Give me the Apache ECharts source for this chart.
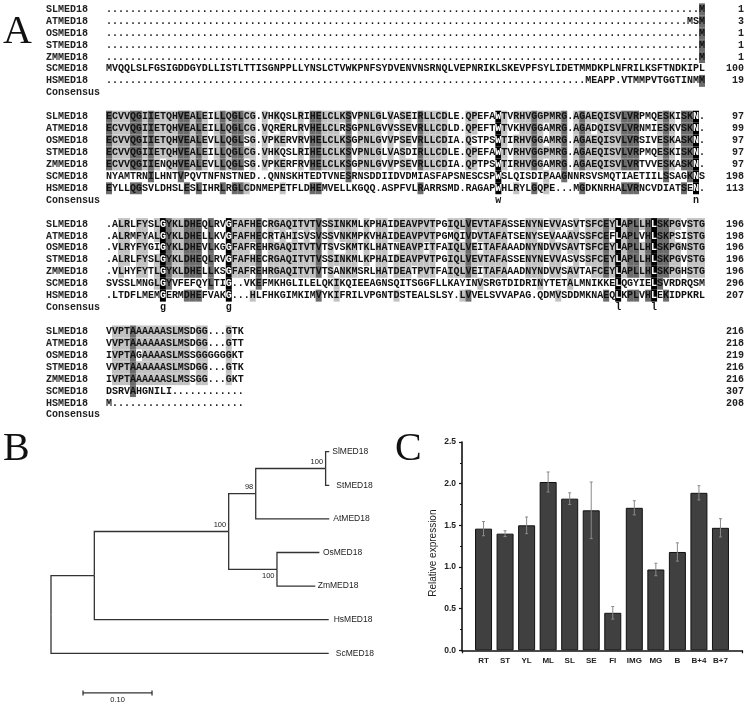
<!DOCTYPE html>
<html><head><meta charset="utf-8">
<style>html,body{margin:0;padding:0;background:#fff}#c{width:750px;height:705px;filter:blur(0.4px)}</style>
<script src="https://cdn.jsdelivr.net/npm/echarts@6/dist/echarts.min.js"></script>
</head><body><div id="c"></div>
<script>
// ---------- Panel A data ----------
const seqNames = ['SLMED18','ATMED18','OSMED18','STMED18','ZMMED18','SCMED18','HSMED18'];
const consensusName = 'Consensus';
const block1 = [
 '.'.repeat(99)+'M',
 '.'.repeat(97)+'MSM',
 '.'.repeat(99)+'M',
 '.'.repeat(99)+'M',
 '.'.repeat(99)+'M',
 'MVQQLSLFGSIGDDGYDLLISTLTTISGNPPLLYNSLCTVWKPNFSYDVENVNSRNQLVEPNRIKLSKEVPFSYLIDETMMDKPLNFRILKSFTNDKIPL',
 '.'.repeat(80)+'MEAPP.VTMMPVTGGTINMM'
];
const block2 = [
 'ECVVQGIIETQHVEALEILLQGLCG.VHKQSLRIHELCLKSVPNLGLVASEIRLLCDLE.QPEFAWTVRHVGGPMRG.AGAEQISVLVRPMQESKISKN.',
 'ECVVQGIIETQHVEALEILLQGLCG.VQRERLRVHELCLRSGPNLGVVSSEVRLLCDLD.QPEFTWTVKHVGGAMRG.AGADQISVLVRNMIESKVSKN.',
 'ECVVQGIIETQHVEALEVLLQGLSG.VPKERVRVHELCLKSGPNLGVVPSEVRLLCDIA.QSTPSWTIRHVGGAMRG.AGAEQISVLVRSIVESKASKN.',
 'ECVVQGIIETQHVEALEILLQGLCG.VHKQSLRIHELCLKSVPNLGLVASDIRLLCDLE.QPEFAWTVRHVGGPMRG.AGAEQISVLVRPMQESKISKN.',
 'ECVVQGIIENQHVEALEVLLQGLSG.VPKERFRVHELCLKSGPNLGVVPSEVRLLCDIA.QPTPSWTIRHVGGAMRG.AGAEQISVLVRTVVESKASKN.',
 'NYAMTRNILHNTVPQVTNFNSTNED..QNNSKHTEDTVNESRNSDDIIDVDMIASFAPSNESCSPWSLQISDIPAAGNNRSVSMQTIAETIILSSAGKNS',
 'EYLLQGSVLDHSLESLIHRLRGLCDNMEPETFLDHEMVELLKGQQ.ASPFVLRARRSMD.RAGAPWHLRYLGQPE...MGDKNRHALVRNCVDIATSEN.'
];
const block3 = [
 '.ALRLFYSLGYKLDHEQLRVGFAFHECRGAQITVTVSSINKMLKPHAIDEAVPVTPGIQLVEVTAFASSENYNEVVASVTSFCEYLAPLLHLSKPGVSTG',
 '.ALRMFYALGYKLDHELLKVGFAFHECRTAHISVSVSSVNKMPKVHAIDEAVPVTPGMQIVDVTAFATSENYSEVAAAVSSFCEFLAPLVHLSKPSISTG',
 '.VLRYFYGIGYKLDHEVLKGGFAFREHRGAQITVTVTSVSKMTKLHATNEAVPITFAIQLVEITAFAAADNYNDVVSAVTSFCEYLAPLLHLSKPGNSTG',
 '.ALRLFYSLGYKLDHEQLRVGFAFHECRGAQITVTVSSINKMLKPHAIDEAVPVTPGIQLVEVTAFASSENYNEVVASVSSFCEYLAPLLHLSKPGVSTG',
 '.VLHYFYTLGYKLDHELLKSGFAFREHRGAQITVTVTSANKMSRLHATDEATPVTFAIQLVEITAFAAADNYNDVVSAVTAFCEYLAPLLHLSKPGHSTG',
 'SVSSLMNGLGYVFEFQYLTIG..VKEFMKHGLILELQKIKQIEEAGNSQITSGGFLLKAYINVSRGTDIDRINYTETALMNIKKELQGYIELSVRDRQSM',
 '.LTDFLMEMGERMDHEFVAKG...HLFHKGIMKIMVYKIFRILVPGNTDSTEALSLSY.LVVELSVVAPAG.QDMVSDDMKNAEQLKPLVHLEKIDPKRL'
];
const block4 = [
 'VVPTAAAAAASLMSDGG...GTK',
 'VVPTAAAAAASLMSDGG...GTT',
 'IVPTAGAAAASLMSSGGGGGGKT',
 'VVPTAAAAAASLMSDGG...GTK',
 'IVPTAAAAAASLMSSGG...GKT',
 'DSRVAHGNILI............',
 'M......................'
];
const blockCounts = [
 [1,3,1,1,1,100,19],
 [97,99,97,97,97,198,113],
 [196,198,196,196,196,296,207],
 [216,218,219,216,216,307,208]
];
// ---------- Panel B data ----------
const treeNodeNames = ['root','a','b','c','d','e'];
const treeNodeDepth = [0, 0.0628, 0.2575, 0.2967, 0.398, 0.3275];
const treeNodeRank  = [3.69, 3.69, 2.375, 1.25, 0.5, 3.5];
const leafNames = ['SlMED18','StMED18','AtMED18','OsMED18','ZmMED18','HsMED18','ScMED18'];
const leafDepth = [0.4033,0.4033,0.4033,0.389,0.383,0.4025,0.4025];
const leafParent = ['d','d','c','e','e','a','root'];
const nodeParent = {a:'root',b:'a',c:'b',d:'c',e:'b'};
const bootstrapNodes = ['d','c','b','e'];
const bootstrapValues = [100,98,100,100];
const scaleLength = 0.10;
const scaleLabel = '0.10';
// ---------- Panel C data ----------
const tissues = ['RT','ST','YL','ML','SL','SE','FI','IMG','MG','B','B+4','B+7'];
const expression = [1.46,1.40,1.50,2.02,1.82,1.68,0.45,1.71,0.97,1.18,1.89,1.47];
const expressionErr = [0.085,0.035,0.10,0.12,0.07,0.34,0.075,0.085,0.075,0.11,0.085,0.11];
const panelLetters = ['A','B','C'];

// ---------- Build alignment cells ----------
const blocks = [block1,block2,block3,block4];
const rowStep = 9, cells = [], rowTexts = [];
blocks.forEach((rows,bi)=>{
  const base = bi*rowStep, len = rows[0].length;
  for(let c=0;c<len;c++){
    const tally = {};
    rows.forEach(r=>{const ch=r[c]; if(ch!=='.') tally[ch]=(tally[ch]||0)+1;});
    rows.forEach((r,ri)=>{
      const ch=r[c], n = ch==='.'?0:tally[ch];
      cells.push({c, r:base+ri, ch, lvl:n===7?3:n===6?2:n>=4?1:0});
    });
    const full = Object.keys(tally).find(k=>tally[k]===7);
    if(full) cells.push({c, r:base+7, ch:full.toLowerCase(), lvl:0});
  }
  rows.forEach((r,ri)=>{rowTexts.push({c:-10.5,r:base+ri,t:seqNames[ri],a:'left'});
                        rowTexts.push({c:106,r:base+ri,t:String(blockCounts[bi][ri]),a:'right'});});
  rowTexts.push({c:-10.5,r:base+7,t:consensusName,a:'left'});
});
const shade = ['#ffffff','#c2c2c2','#6c6c6c','#000000'];
const monoFont = 'bold 10px "Liberation Mono", monospace';

// ---------- Build tree ----------
const nd = {}; treeNodeNames.forEach((n,i)=>nd[n]={d:treeNodeDepth[i],r:treeNodeRank[i]});
nd.a.r = 2.375/2+5/2;
nd.root.r = (nd.a.r+6)/2;
const edges = [];
Object.keys(nodeParent).forEach(n=>edges.push([nd[nodeParent[n]].d,nd[nodeParent[n]].r,nd[n].d,nd[n].r]));
leafNames.forEach((n,i)=>edges.push([nd[leafParent[i]].d,nd[leafParent[i]].r,leafDepth[i],i]));
const labelGap = [3,7,4,3.5,2.5,5,7];
const treeColor = '#333';

const chart = echarts.init(document.getElementById('c'),null,{renderer:'canvas'});
chart.setOption({
  animation:false, backgroundColor:'#fff',
  textStyle:{fontFamily:'"Liberation Sans", Arial, sans-serif'},
  grid:[
    {left:106,top:3.33,width:599,height:417.6},
    {left:51,top:451.7,width:310.5,height:252},
    {left:462,top:442,width:280,height:208.3}
  ],
  xAxis:[
    {gridIndex:0,type:'value',min:-0.5,max:99.5,show:false},
    {gridIndex:1,type:'value',min:0,max:0.45,show:false},
    {gridIndex:2,type:'category',boundaryGap:false,data:['',...tissues,''],
     axisLine:{lineStyle:{color:'#111',width:1.6}},
     axisTick:{length:3,interval:i=>i===0||i===tissues.length+1,lineStyle:{color:'#111',width:1.2}},
     axisLabel:{interval:0,margin:6,fontSize:8,fontWeight:'bold',color:'#222'}}
  ],
  yAxis:[
    {gridIndex:0,type:'value',min:-0.5,max:34.5,inverse:true,show:false},
    {gridIndex:1,type:'value',min:0,max:7.5,inverse:true,show:false},
    {gridIndex:2,type:'value',min:0,max:2.5,interval:0.5,
     name:'Relative expression',nameLocation:'middle',nameGap:24,nameRotate:90,
     nameTextStyle:{fontSize:10,color:'#222',padding:[0,14,0,0]},
     axisLine:{show:true,lineStyle:{color:'#111',width:1.6}},
     axisTick:{show:true,length:3,lineStyle:{color:'#111',width:1.2}},
     minorTick:{show:true,splitNumber:2,length:2,lineStyle:{color:'#111'}},
     splitLine:{show:false},
     axisLabel:{margin:6,fontSize:8.5,fontWeight:'bold',color:'#222',formatter:v=>v.toFixed(1)}}
  ],
  series:[
    // alignment shading + letters
    {type:'custom',xAxisIndex:0,yAxisIndex:0,silent:true,progressive:0,
     data:cells.map(o=>[o.c,o.r]),
     renderItem(p,api){
       const o=cells[p.dataIndex],pt=api.coord([o.c,o.r]),sz=api.size([1,1]),ch=[];
       if(o.lvl>0)ch.push({type:'rect',shape:{x:pt[0]-sz[0]/2,y:pt[1]-sz[1]/2,width:sz[0],height:sz[1]},style:{fill:shade[o.lvl]}});
       ch.push({type:'text',z2:5,style:{text:o.ch,x:pt[0],y:pt[1],align:'center',verticalAlign:'middle',font:monoFont,fill:o.lvl===3?'#fff':'#111'}});
       return {type:'group',children:ch};
     }},
    // row names and residue counts
    {type:'custom',xAxisIndex:0,yAxisIndex:0,silent:true,progressive:0,
     data:rowTexts.map(o=>[o.c,o.r]),
     renderItem(p,api){
       const o=rowTexts[p.dataIndex],pt=api.coord([o.c,o.r]);
       return {type:'text',style:{text:o.t,x:pt[0],y:pt[1],align:o.a,verticalAlign:'middle',font:monoFont,fill:'#222'}};
     }},
    // tree branches
    {type:'custom',xAxisIndex:1,yAxisIndex:1,silent:true,data:edges,
     encode:{x:[0,2],y:[1,3]},
     renderItem(p,api){
       const a=api.coord([api.value(0),api.value(1)]),b=api.coord([api.value(2),api.value(3)]);
       return {type:'polyline',shape:{points:[a,[a[0],b[1]],b]},style:{stroke:treeColor,lineWidth:1.3,fill:'none'}};
     }},
    // leaf labels
    {type:'custom',xAxisIndex:1,yAxisIndex:1,silent:true,
     data:leafNames.map((n,i)=>[leafDepth[i],i]),
     renderItem(p,api){
       const pt=api.coord([api.value(0),api.value(1)]);
       return {type:'text',style:{text:leafNames[p.dataIndex],x:pt[0]+labelGap[p.dataIndex],y:pt[1],align:'left',verticalAlign:'middle',font:'8.5px "Liberation Sans", Arial, sans-serif',fill:'#222'}};
     }},
    // bootstrap labels
    {type:'custom',xAxisIndex:1,yAxisIndex:1,silent:true,
     data:bootstrapNodes.map(n=>[nd[n].d,nd[n].r]),
     renderItem(p,api){
       const pt=api.coord([api.value(0),api.value(1)]);
       const below=bootstrapNodes[p.dataIndex]==='e';
       return {type:'text',style:{text:String(bootstrapValues[p.dataIndex]),x:pt[0]-2.5,y:pt[1]+(below?6.4:-6.5),align:'right',verticalAlign:'middle',font:'7.5px "Liberation Sans", Arial, sans-serif',fill:'#222'}};
     }},
    // scale bar
    {type:'custom',xAxisIndex:1,yAxisIndex:1,silent:true,
     data:[[0.0464,7.18,0.0464+scaleLength,7.18]],
     encode:{x:[0,2],y:[1,3]},
     renderItem(p,api){
       const a=api.coord([api.value(0),api.value(1)]),b=api.coord([api.value(2),api.value(3)]);
       return {type:'group',children:[
         {type:'line',shape:{x1:a[0],y1:a[1],x2:b[0],y2:b[1]},style:{stroke:treeColor,lineWidth:1.3}},
         {type:'line',shape:{x1:a[0],y1:a[1]-2.5,x2:a[0],y2:a[1]+2.5},style:{stroke:treeColor,lineWidth:1.3}},
         {type:'line',shape:{x1:b[0],y1:b[1]-2.5,x2:b[0],y2:b[1]+2.5},style:{stroke:treeColor,lineWidth:1.3}},
         {type:'text',style:{text:scaleLabel,x:(a[0]+b[0])/2,y:a[1]+7,align:'center',verticalAlign:'middle',font:'7.5px "Liberation Sans", Arial, sans-serif',fill:'#222'}}
       ]};
     }},
    // bars
    {type:'bar',xAxisIndex:2,yAxisIndex:2,silent:true,barWidth:17,
     data:[null,...expression,null],
     itemStyle:{color:'#404040',borderColor:'#111',borderWidth:1}},
    // error bars
    {type:'custom',xAxisIndex:2,yAxisIndex:2,silent:true,z:5,
     data:expression.map((v,i)=>[i+1,v-expressionErr[i],v+expressionErr[i]]),
     encode:{x:0,y:[1,2]},
     renderItem(p,api){
       const lo=api.coord([api.value(0),api.value(1)]),hi=api.coord([api.value(0),api.value(2)]);
       const s={stroke:'#8a8a8a',lineWidth:1};
       return {type:'group',children:[
         {type:'line',shape:{x1:hi[0],y1:hi[1],x2:lo[0],y2:lo[1]},style:s},
         {type:'line',shape:{x1:hi[0]-1.5,y1:hi[1],x2:hi[0]+1.5,y2:hi[1]},style:s},
         {type:'line',shape:{x1:lo[0]-1.5,y1:lo[1],x2:lo[0]+1.5,y2:lo[1]},style:s}
       ]};
     }}
  ],
  graphic:panelLetters.map((t,i)=>({
    type:'text',silent:true,
    left:[3,3,395][i],top:[12,429,429][i],
    style:{text:t,font:'40px "Liberation Serif", serif',fill:'#111'}
  }))
});
</script></body></html>
